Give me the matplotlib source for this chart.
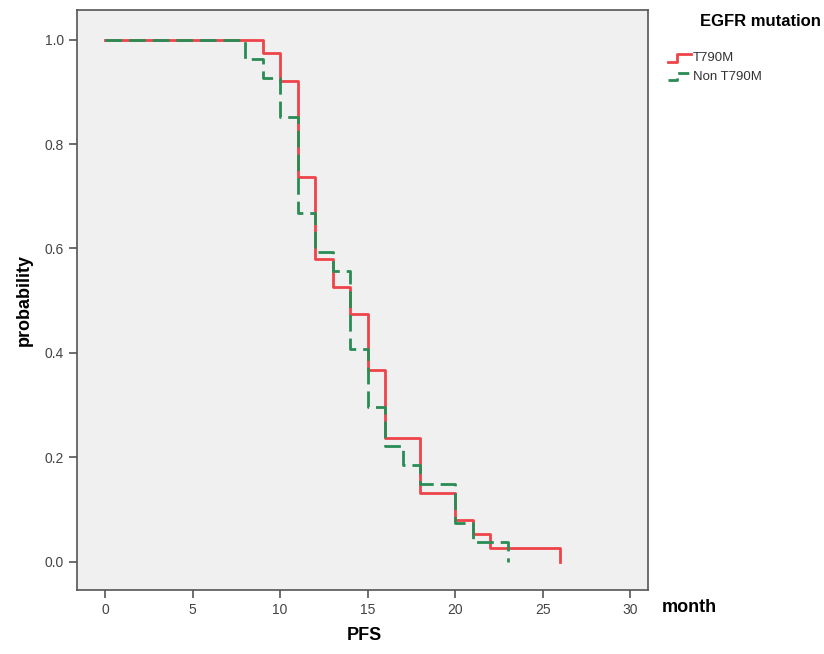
import matplotlib
matplotlib.use("Agg")
import matplotlib.pyplot as plt
from matplotlib.lines import Line2D

plt.rcParams['font.family'] = ['Liberation Sans Narrow', 'Liberation Sans', 'DejaVu Sans']

# Kaplan-Meier step data
t790m_time = [0, 9, 10, 11, 12, 13, 14, 15, 16, 18, 20, 21, 22, 26]
t790m_surv = [1.0, 0.974, 0.921, 0.737, 0.579, 0.526, 0.474, 0.368, 0.237, 0.132, 0.079, 0.053, 0.026, 0.0]

non_time = [0, 8, 9, 10, 11, 12, 13, 14, 15, 16, 17, 18, 20, 21, 23]
non_surv = [1.0, 0.963, 0.926, 0.852, 0.667, 0.593, 0.556, 0.407, 0.296, 0.222, 0.185, 0.148, 0.074, 0.037, 0.0]

xticks = [0, 5, 10, 15, 20, 25, 30]
yticks = [0.0, 0.2, 0.4, 0.6, 0.8, 1.0]
groups = ["T790M", "Non T790M"]

red = "#ee4449"
green = "#2a8c55"

fig = plt.figure(figsize=(8.24, 6.54), dpi=100)
ax = fig.add_axes([0.0934, 0.098, 0.693, 0.887])
ax.set_facecolor("#f0f0f0")

ax.step(t790m_time, t790m_surv, where="post", color=red, lw=2)
ax.step(non_time, non_surv, where="post", color=green, lw=2, dashes=(6, 2.5))

ax.set_xlim(-1.6, 31.0)
ax.set_ylim(-0.054, 1.057)
ax.set_xticks(xticks)
ax.set_yticks(yticks)
ax.set_xticklabels([str(v) for v in xticks])
ax.set_yticklabels(["%.1f" % v for v in yticks])
ax.tick_params(direction="out", length=6, width=1.2, colors="#555555",
               labelsize=10, labelcolor="#444444")
for s in ax.spines.values():
    s.set_color("#555555")
    s.set_linewidth(1.2)

ax.set_ylabel("probability", fontsize=13, fontweight="bold", labelpad=8)
fig.text(0.442, 0.028, "PFS", fontsize=13, fontweight="bold", ha="center", va="center")
fig.text(0.803, 0.071, "month", fontsize=13, fontweight="bold", ha="left", va="center")

# legend
fig.text(0.85, 0.967, "EGFR mutation", fontsize=12, fontweight="bold", ha="left", va="center",
         family=['Liberation Sans', 'DejaVu Sans'])
colors = [red, green]
styles = [dict(), dict(dashes=(4, 2))]
for i, g in enumerate(groups):
    y0 = 0.911 - i * 0.028
    xs = [0.811, 0.822, 0.822, 0.838]
    ys = [y0 - 0.006, y0 - 0.006, y0 + 0.006, y0 + 0.006]
    fig.add_artist(Line2D(xs, ys, color=colors[i], lw=2, transform=fig.transFigure, **styles[i]))
    fig.text(0.841, y0, g, fontsize=9.5, color="#333333", ha="left", va="center")

fig.savefig("out.png", dpi=100)
